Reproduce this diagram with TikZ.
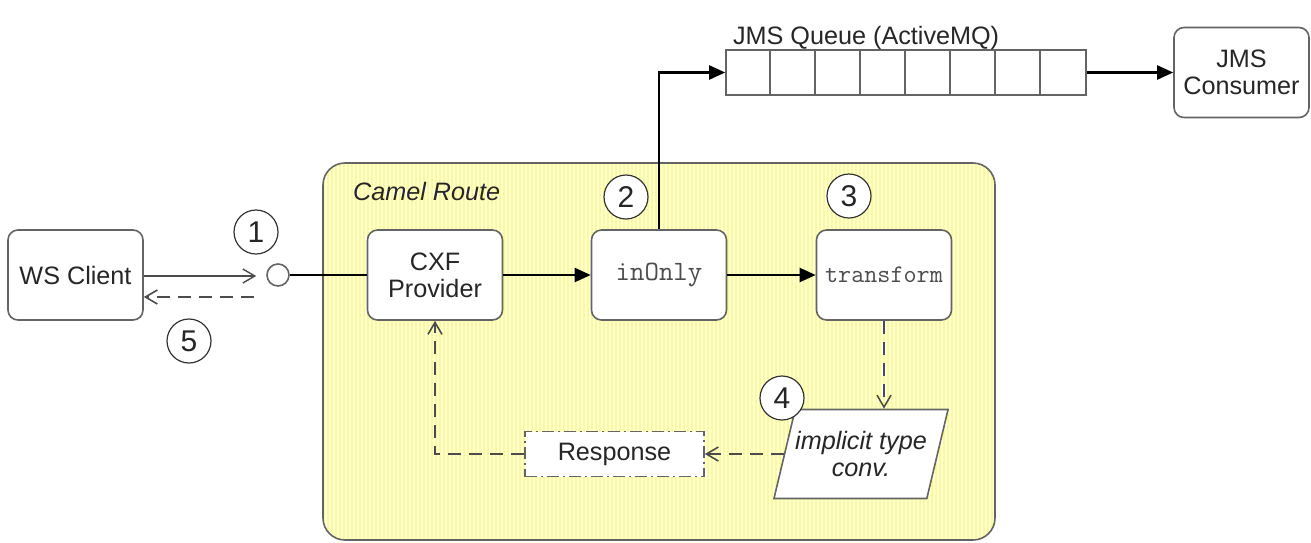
\documentclass[tikz,border=0pt]{standalone}
\usepackage{fontspec}
\setmainfont{Liberation Sans}
\usetikzlibrary{arrows.meta,shapes.geometric}
\definecolor{stripe}{RGB}{255,255,115}
\definecolor{edge}{RGB}{100,100,100}

\begin{document}
\begin{tikzpicture}[x=0.5pt, y=-0.5pt,
	every node/.style={font=\fontsize{12.6}{13.5}\selectfont, text=black!85},
	box/.style={draw=edge, line width=0.8pt, fill=white, rounded corners=5pt, minimum width=67.5pt, minimum height=45pt, align=center, inner sep=0pt},
	num/.style={circle, draw=black!80, line width=0.6pt, fill=white, minimum size=22pt, inner sep=0pt, font=\fontsize{15}{15}\selectfont},
	flow/.style={line width=1.1pt, -{Triangle[length=8pt,width=7pt]}},
	ret/.style={draw=black!70, line width=0.8pt, dash pattern=on 6.5pt off 4pt, -{Straight Barb[length=6pt,width=7pt]}},
	code/.style={font=\ttfamily\fontsize{14}{14}\selectfont, text=black!70}]
	\useasboundingbox (0,0) rectangle (1311,542);
	\begin{scope}
		\clip[rounded corners=11pt] (323,163) rectangle (995,540);
		\fill[white] (323,163) rectangle (995,540);
		\foreach \x in {323,327,...,995} {\fill[stripe] (\x,163) rectangle +(2.2,377);}
	\end{scope}
	\draw[edge, line width=0.8pt, rounded corners=11pt] (323,163) rectangle (995,540);
	\node[anchor=base west, font=\itshape\fontsize{12.6}{13.5}\selectfont] (route) at (346,200) {Camel Route};
	\node[box] (client) at (75.5,275) {WS Client};
	\node[circle, draw=edge, line width=0.8pt, fill=white, minimum size=11pt, inner sep=0pt] (ep) at (278,275) {};
	\node[box] (cxf) at (435,275) {CXF\\Provider};
	\node[box, code] (inonly) at (659,275) {inOnly};
	\node[box, code, font=\ttfamily\fontsize{12.7}{13}\selectfont] (transform) at (884,275) {transform};
	\node[trapezium, trapezium left angle=65, trapezium right angle=115, trapezium stretches=true, draw=edge, fill=white, line width=0.8pt, minimum width=68.5pt, minimum height=44.5pt, align=center, inner sep=0pt, font=\itshape\fontsize{12.6}{13.5}\selectfont] (conv) at (861,454) {implicit type\\conv.};
	\node[draw=edge, line width=0.8pt, dash pattern=on 6pt off 2pt on 1pt off 2pt, fill=white, minimum width=89.5pt, minimum height=22.5pt] (response) at (614.5,454) {Response};
	\node[draw=edge, line width=0.8pt, fill=white, minimum width=180pt, minimum height=22.5pt, inner sep=0pt] (queue) at (906,72.5) {};
	\foreach \i in {1,...,7} {\draw[edge, line width=0.8pt] ([xshift=\i*22.5pt]queue.south west) -- ([xshift=\i*22.5pt]queue.north west);}
	\node[anchor=base west] (qlabel) at (726,44) {JMS Queue (ActiveMQ)};
	\node[box] (consumer) at (1241.5,72.5) {JMS\\Consumer};
	\node[num] (n1) at (256,232) {1};
	\node[num] (n2) at (626,197) {2};
	\node[num] (n3) at (849,196) {3};
	\node[num] (n4) at (782,398) {4};
	\node[num] (n5) at (189,341) {5};
	\draw[draw=black!70, line width=0.7pt, shorten >=5pt, -{Straight Barb[length=6pt,width=7pt]}] ([yshift=-0.5pt]client.east) -- ([yshift=-0.5pt]ep.west);
	\draw[ret, shorten <=6pt] ([yshift=-11pt]ep.west) -- ([yshift=-11pt]client.east);
	\draw[line width=1.1pt] (ep) -- (cxf);
	\draw[flow] (cxf) -- (inonly);
	\draw[flow] (inonly) -- (transform);
	\draw[flow] (inonly.north) |- (queue.west);
	\draw[flow] (queue) -- (consumer);
	\draw[ret] (transform.south) -- (transform.south |- conv.north);
	\draw[ret] (conv.west) -- (conv.west -| response.east);
	\draw[ret] (response.west) -| (cxf.south);
\end{tikzpicture}
\end{document}
